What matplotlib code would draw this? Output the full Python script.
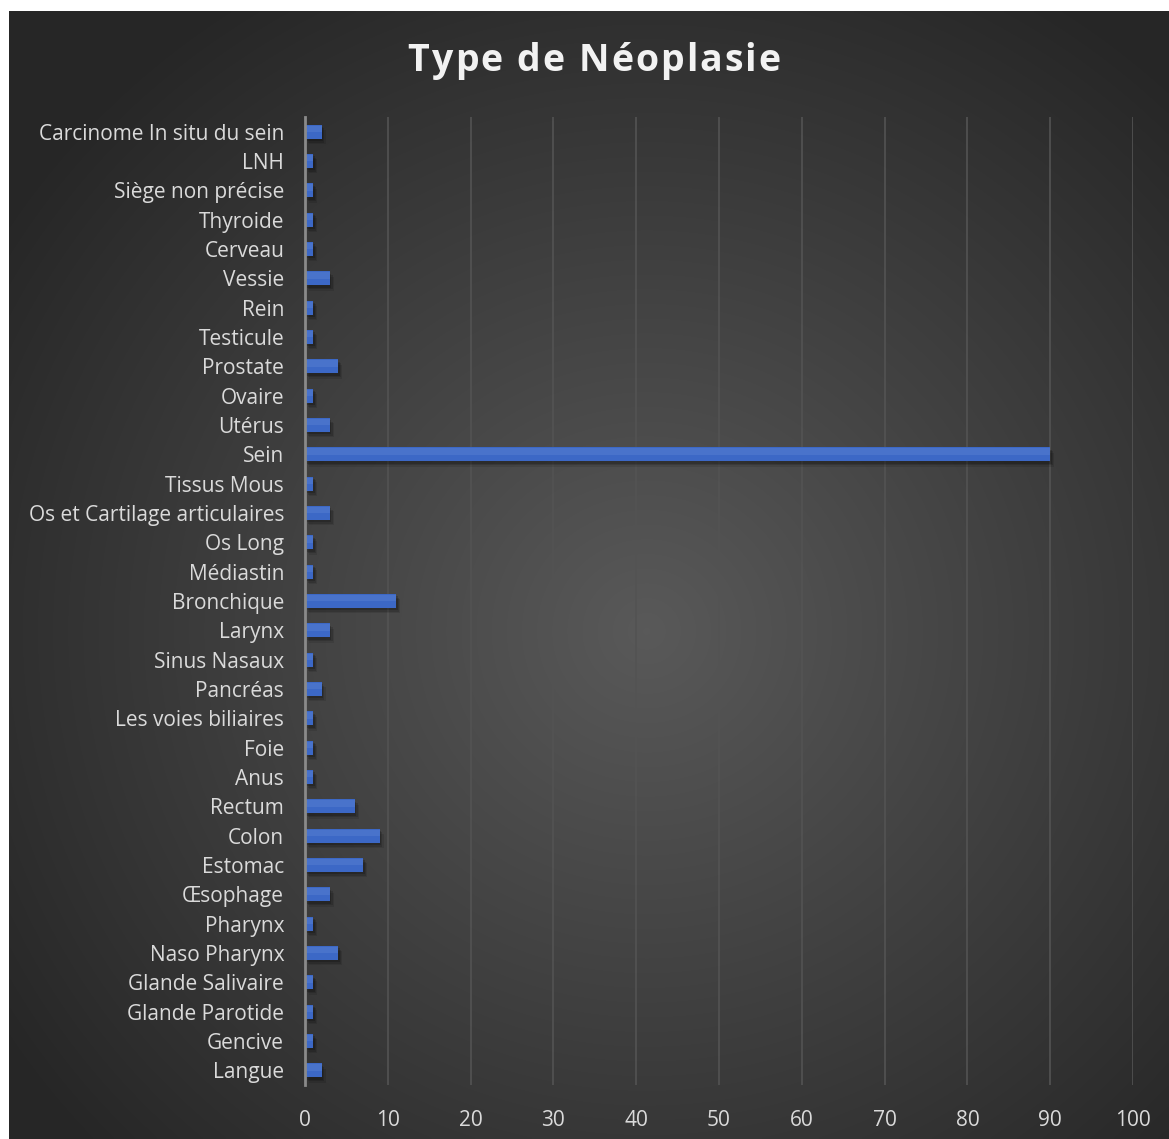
import numpy as np
import matplotlib.pyplot as plt

# catégories (de bas en haut) et effectifs
categories = ["Langue", "Gencive", "Glande Parotide", "Glande Salivaire", "Naso Pharynx",
              "Pharynx", "Œsophage", "Estomac", "Colon", "Rectum", "Anus", "Foie",
              "Les voies biliaires", "Pancréas", "Sinus Nasaux", "Larynx", "Bronchique",
              "Médiastin", "Os Long", "Os et Cartilage articulaires", "Tissus Mous", "Sein",
              "Utérus", "Ovaire", "Prostate", "Testicule", "Rein", "Vessie", "Cerveau",
              "Thyroide", "Siège non précise", "LNH", "Carcinome In situ du sein"]
effectifs = [2, 1, 1, 1, 4, 1, 3, 7, 9, 6, 1, 1, 1, 2, 1, 3, 11, 1, 1, 3, 1, 90,
             3, 1, 4, 1, 1, 3, 1, 1, 1, 1, 2]
xticks = list(range(0, 101, 10))
titre = "Type de Néoplasie"

plt.rcParams['font.family'] = ['Open Sans', 'DejaVu Sans']
text_color = "#dadada"

W, H = 1169, 1139
fig = plt.figure(figsize=(W / 100, H / 100), dpi=100)
fig.patch.set_facecolor("white")

# fond sombre avec dégradé radial
bg = fig.add_axes([9 / W, 0, 1 - 9 / W, 1 - 11 / H])
bg.set_axis_off()
yy, xx = np.mgrid[0:1:400j, 0:1:400j]
r = np.sqrt((xx - 0.55) ** 2 + (yy - 0.55) ** 2)
shade = np.clip(0.35 - 0.30 * r, 0.15, 0.35)
img = np.dstack([shade, shade, shade])
bg.imshow(img, extent=[0, 1, 0, 1], aspect="auto", interpolation="bilinear")

ax = fig.add_axes([305 / W, 1 - 1085 / H, (1133 - 305) / W, (1085 - 117) / H])
ax.patch.set_alpha(0)

y = np.arange(len(categories))
h = 0.48
# ombre portée, adoucie en plusieurs couches
for dy, dx, a in [(0.08, 0.2, 0.18), (0.13, 0.35, 0.14), (0.18, 0.5, 0.10)]:
    ax.barh(y - dy, effectifs, height=h, left=dx, color="black", alpha=a, zorder=2, linewidth=0)
# barres avec léger dégradé vers le haut
ax.barh(y, effectifs, height=h, color="#3c68c6", zorder=3, linewidth=0)
ax.barh(y + h * 0.2, effectifs, height=h * 0.45, color="#6a8fd8", alpha=0.3, zorder=4, linewidth=0)

ax.set_xlim(0, 100)
ax.set_ylim(-0.5, len(categories) - 0.5)
ax.set_xticks(xticks)
ax.set_yticks(y)
ax.set_yticklabels(categories)
ax.tick_params(axis="both", length=0, colors=text_color, labelsize=15)
ax.tick_params(axis="y", pad=15)
ax.tick_params(axis="x", pad=18)
ax.grid(axis="x", color="#535353", linewidth=1.2, zorder=0)
for s in ["top", "right", "bottom"]:
    ax.spines[s].set_visible(False)
ax.spines["left"].set_color("#8a8a8a")
ax.spines["left"].set_linewidth(2)
ax.spines["left"].set_zorder(5)

# titre en gras avec espacement des lettres
fig.canvas.draw()
renderer = fig.canvas.get_renderer()
espacement = 2.0
largeurs = []
for c in titre:
    t = fig.text(0, 0, c if c != " " else "a", fontsize=27, fontweight="bold")
    w = t.get_window_extent(renderer).width
    if c == " ":
        w *= 0.45
    largeurs.append(w)
    t.remove()
total = sum(largeurs) + espacement * (len(titre) - 1)
x0 = 594 - total / 2
for c, w in zip(titre, largeurs):
    if c != " ":
        fig.text(x0 / W, 1 - 61 / H, c, ha="left", va="center",
                 fontsize=27, fontweight="bold", color="#f2f2f2")
    x0 += w + espacement

fig.savefig("out.png", dpi=100, facecolor=fig.get_facecolor())
